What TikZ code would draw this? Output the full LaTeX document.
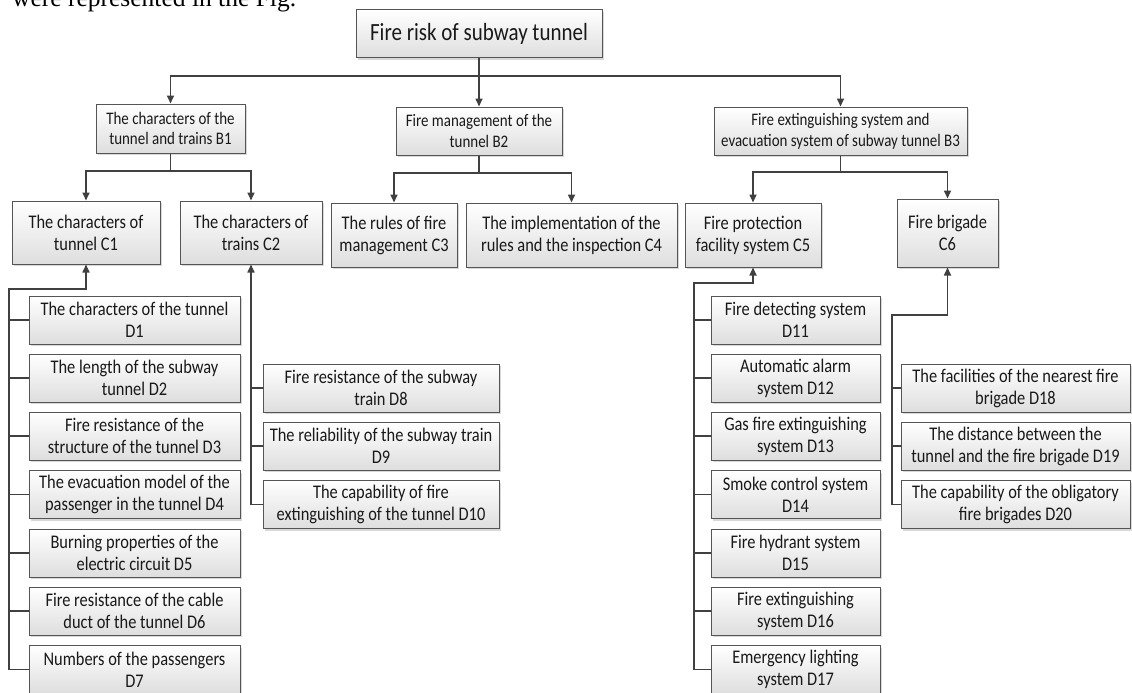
\documentclass[tikz,border=0pt]{standalone}
\usepackage{fontspec}
\usetikzlibrary{arrows.meta,shadows}
\newfontfamily\cf{Carlito}[FakeStretch=0.85]
\newfontfamily\capserif{Liberation Serif}
\definecolor{edge}{HTML}{555555}
\definecolor{wire}{HTML}{404040}
\tikzset{
  box/.style={draw=edge, line width=1pt, top color=white, bottom color=black!13,
    align=center, inner sep=1pt, text=black!90,
    drop shadow={shadow xshift=2pt, shadow yshift=-2pt, fill=black!30, opacity=0.5}},
  dfont/.style={font=\cf\fontsize{19.3}{22}\selectfont},
  bfont/.style={font=\cf\fontsize{17.6}{20.7}\selectfont},
  tfont/.style={font=\cf\fontsize{24.7}{28}\selectfont},
  wbox/.style 2 args={box, minimum width=#1pt, minimum height=#2pt},
  conn/.style={draw=wire, line width=1.6pt},
  arr/.style={conn, -{Triangle[length=8pt,width=7pt]}},
}
\begin{document}
\begin{tikzpicture}[x=1pt,y=-1pt]
\useasboundingbox (0,0) rectangle (1132,693);
\clip (0,0) rectangle (1132,693);
\node[anchor=base west, inner sep=0pt, font=\capserif\fontsize{25.5}{26}\selectfont] (cap) at (12,7) {were represented in the Fig.};
% top
\node[wbox={246}{48}, tfont] (T) at (479,34) {Fire risk of subway tunnel};
% B level
\node[wbox={149}{49}, bfont] (B1) at (170.5,128.5) {The characters of the\\tunnel and trains B1};
\node[wbox={166}{48}, bfont] (B2) at (479,131) {Fire management of the\\tunnel B2};
\node[wbox={253}{48}, bfont] (B3) at (840.5,131) {Fire extinguishing system and\\evacuation system of subway tunnel B3};
% C level
\node[wbox={148}{63}, dfont] (C1) at (86,232.5) {The characters of\\tunnel C1};
\node[wbox={142}{63}, dfont] (C2) at (251,232.5) {The characters of\\trains C2};
\node[wbox={126}{64}, dfont] (C3) at (394,235) {The rules of fire\\management C3};
\node[wbox={211}{64}, dfont] (C4) at (571.5,235) {The implementation of the\\rules and the inspection C4};
\node[wbox={136}{64}, dfont] (C5) at (753,235) {Fire protection\\facility system C5};
\node[wbox={101}{68}, dfont] (C6) at (947.5,233) {Fire brigade\\C6};
% D1-D7
\node[wbox={211}{48}, dfont] (D1) at (134.5,320) {The characters of the tunnel\\D1};
\node[wbox={211}{48}, dfont] (D2) at (134.5,378) {The length of the subway\\tunnel D2};
\node[wbox={211}{48}, dfont] (D3) at (134.5,436) {Fire resistance of the\\structure of the tunnel D3};
\node[wbox={211}{48}, dfont] (D4) at (134.5,494.5) {The evacuation model of the\\passenger in the tunnel D4};
\node[wbox={211}{48}, dfont] (D5) at (134.5,553) {Burning properties of the\\electric circuit D5};
\node[wbox={211}{48}, dfont] (D6) at (134.5,611) {Fire resistance of the cable\\duct of the tunnel D6};
\node[wbox={211}{48}, dfont] (D7) at (134.5,669.5) {Numbers of the passengers\\D7};
% D8-D10
\node[wbox={236}{48}, dfont] (D8) at (381,388) {Fire resistance of the subway\\train D8};
\node[wbox={236}{48}, dfont] (D9) at (381,446) {The reliability of the subway train\\D9};
\node[wbox={236}{48}, dfont] (D10) at (381,504.5) {The capability of fire\\extinguishing of the tunnel D10};
% D11-D17
\node[wbox={169}{48}, dfont] (D11) at (795.5,320) {Fire detecting system\\D11};
\node[wbox={169}{48}, dfont] (D12) at (795.5,378) {Automatic alarm\\system D12};
\node[wbox={169}{48}, dfont] (D13) at (795.5,436) {Gas fire extinguishing\\system D13};
\node[wbox={169}{48}, dfont] (D14) at (795.5,494.5) {Smoke control system\\D14};
\node[wbox={169}{48}, dfont] (D15) at (795.5,553) {Fire hydrant system\\D15};
\node[wbox={169}{48}, dfont] (D16) at (795.5,611) {Fire extinguishing\\system D16};
\node[wbox={169}{48}, dfont] (D17) at (795.5,669.5) {Emergency lighting\\system D17};
% D18-D20
\node[wbox={229}{48}, dfont] (D18) at (1015.5,388) {The facilities of the nearest fire\\brigade D18};
\node[wbox={229}{48}, dfont] (D19) at (1015.5,446) {The distance between the\\tunnel and the fire brigade D19};
\node[wbox={229}{48}, dfont] (D20) at (1015.5,504.5) {The capability of the obligatory\\fire brigades D20};

% bus coordinates
\coordinate (busT) at (479,76);
\coordinate (busB1) at (170.5,171);
\coordinate (busB2) at (479,173);
\coordinate (busB3) at (840.5,172);
\coordinate (L1) at (9,289);
\coordinate (L5) at (694,283);
\coordinate (L6a) at (892,315);

% top level connectors
\draw[conn] (T.south) -- (busT);
\draw[arr] (busT) -| (B1.north);
\draw[arr] (busT) -| (B3.north);
\draw[arr] (busT) -- (B2.north);
% B to C
\draw[conn] (B1.south) -- (busB1);
\draw[arr] (busB1) -| (C1.north);
\draw[arr] (busB1) -| (C2.north);
\draw[conn] (B2.south) -- (busB2);
\draw[arr] (busB2) -| (C3.north);
\draw[arr] (busB2) -| (C4.north);
\draw[conn] (B3.south) -- (busB3);
\draw[arr] (busB3) -| (C5.north);
\draw[arr] (busB3) -| (C6.north);
% C1 group
\draw[arr] (D7.west) -- (D7.west -| L1) -- (L1) -| (C1.south);
\foreach \d in {D1,D2,D3,D4,D5,D6} \draw[conn] (\d.west) -- (\d.west -| L1);
% C2 group
\draw[arr] (D10.west) -- (D10.west -| C2.south) -- (C2.south);
\foreach \d in {D8,D9} \draw[conn] (\d.west) -- (\d.west -| C2.south);
% C5 group
\draw[arr] (D17.west) -- (D17.west -| L5) -- (L5) -| (C5.south);
\foreach \d in {D11,D12,D13,D14,D15,D16} \draw[conn] (\d.west) -- (\d.west -| L5);
% C6 group
\draw[arr] (D20.west) -- (D20.west -| L6a) -- (L6a) -| (C6.south);
\foreach \d in {D18,D19} \draw[conn] (\d.west) -- (\d.west -| L6a);
\end{tikzpicture}
\end{document}
